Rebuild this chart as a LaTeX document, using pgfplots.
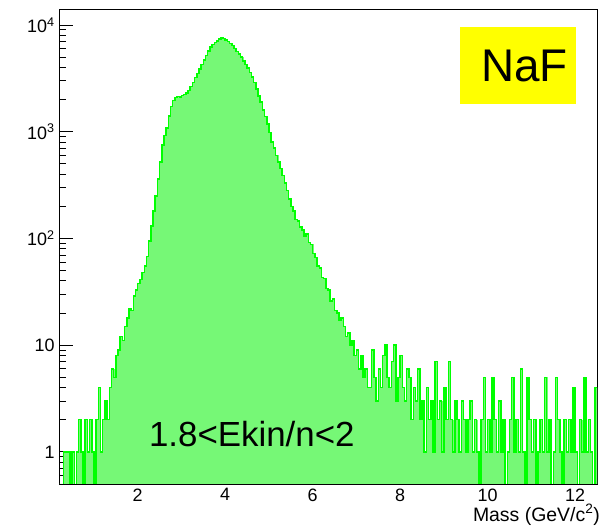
\documentclass[border=0pt]{standalone}
\usepackage{fontspec}
\setmainfont{Liberation Sans}
\usepackage{pgfplots}
\usepackage{pgfplotstable}
\pgfplotsset{compat=1.18}
\definecolor{rootgreen}{RGB}{0,255,0}
\definecolor{fillgreen}{RGB}{118,248,118}
\definecolor{rootyellow}{RGB}{255,255,0}

\pgfplotstableread[row sep=\\]{
x y\\
0.20 0.1\\ 0.25 0.1\\ 0.30 1\\ 0.35 1\\ 0.40 1\\ 0.45 0.1\\ 0.50 1\\ 0.55 0.1\\ 0.60 1\\ 0.65 2\\
0.70 1\\ 0.75 0.1\\ 0.80 2\\ 0.85 1\\ 0.90 2\\ 0.95 1\\ 1.00 0.1\\ 1.05 2\\ 1.10 4\\ 1.15 1\\
1.20 2\\ 1.25 3\\ 1.30 2\\ 1.35 4\\ 1.40 6\\ 1.45 5\\ 1.50 8\\ 1.55 9\\ 1.60 12\\ 1.65 11\\
1.70 15\\ 1.75 18\\ 1.80 22\\ 1.85 21\\ 1.90 29\\ 1.95 33\\ 2.00 38\\ 2.05 41\\ 2.10 48\\ 2.15 55\\
2.20 68\\ 2.25 95\\ 2.30 130\\ 2.35 180\\ 2.40 250\\ 2.45 360\\ 2.50 520\\ 2.55 750\\ 2.60 920\\ 2.65 1080\\
2.70 1400\\ 2.75 1720\\ 2.80 1950\\ 2.85 2080\\ 2.90 2130\\ 2.95 2120\\ 3.00 2170\\ 3.05 2220\\ 3.10 2300\\ 3.15 2420\\
3.20 2650\\ 3.25 2900\\ 3.30 3200\\ 3.35 3500\\ 3.40 3850\\ 3.45 4250\\ 3.50 4700\\ 3.55 5150\\ 3.60 5700\\ 3.65 6200\\
3.70 6550\\ 3.75 6850\\ 3.80 7100\\ 3.85 7350\\ 3.90 7550\\ 3.95 7500\\ 4.00 7250\\ 4.05 7000\\ 4.10 6700\\ 4.15 6400\\
4.20 6000\\ 4.25 5650\\ 4.30 5350\\ 4.35 5000\\ 4.40 4600\\ 4.45 4250\\ 4.50 3950\\ 4.55 3600\\ 4.60 3250\\ 4.65 2900\\
4.70 2500\\ 4.75 2150\\ 4.80 1900\\ 4.85 1600\\ 4.90 1380\\ 4.95 1180\\ 5.00 980\\ 5.05 800\\ 5.10 700\\ 5.15 600\\
5.20 520\\ 5.25 450\\ 5.30 390\\ 5.35 330\\ 5.40 280\\ 5.45 235\\ 5.50 200\\ 5.55 180\\ 5.60 150\\ 5.65 145\\
5.70 128\\ 5.75 120\\ 5.80 105\\ 5.85 110\\ 5.90 92\\ 5.95 88\\ 6.00 72\\ 6.05 66\\ 6.10 55\\ 6.15 53\\
6.20 43\\ 6.25 42\\ 6.30 34\\ 6.35 33\\ 6.40 26\\ 6.45 27\\ 6.50 21\\ 6.55 20\\ 6.60 17\\ 6.65 18\\
6.70 15\\ 6.75 12\\ 6.80 13\\ 6.85 10\\ 6.90 11\\ 6.95 8\\ 7.00 9\\ 7.05 6\\ 7.10 8\\ 7.15 5\\
7.20 6\\ 7.25 4\\ 7.30 4\\ 7.35 9\\ 7.40 5\\ 7.45 3\\ 7.50 6\\ 7.55 4\\ 7.60 8\\ 7.65 10\\
7.70 5\\ 7.75 4\\ 7.80 7\\ 7.85 10\\ 7.90 3\\ 7.95 5\\ 8.00 8\\ 8.05 4\\ 8.10 3\\ 8.15 6\\
8.20 5\\ 8.25 2\\ 8.30 4\\ 8.35 3\\ 8.40 6\\ 8.45 2\\ 8.50 3\\ 8.55 1\\ 8.60 4\\ 8.65 2\\
8.70 3\\ 8.75 1\\ 8.80 7\\ 8.85 2\\ 8.90 3\\ 8.95 1\\ 9.00 4\\ 9.05 2\\ 9.10 7\\ 9.15 2\\
9.20 1\\ 9.25 3\\ 9.30 2\\ 9.35 1\\ 9.40 3\\ 9.45 2\\ 9.50 1\\ 9.55 2\\ 9.60 3\\ 9.65 1\\
9.70 2\\ 9.75 1\\ 9.80 0.1\\ 9.85 2\\ 9.90 5\\ 9.95 1\\ 10.00 2\\ 10.05 1\\ 10.10 5\\ 10.15 2\\
10.20 1\\ 10.25 3\\ 10.30 1\\ 10.35 2\\ 10.40 0.1\\ 10.45 1\\ 10.50 2\\ 10.55 5\\ 10.60 1\\ 10.65 2\\
10.70 1\\ 10.75 6\\ 10.80 1\\ 10.85 0.1\\ 10.90 5\\ 10.95 2\\ 11.00 1\\ 11.05 2\\ 11.10 0.1\\ 11.15 1\\
11.20 2\\ 11.25 1\\ 11.30 5\\ 11.35 1\\ 11.40 2\\ 11.45 0.1\\ 11.50 1\\ 11.55 5\\ 11.60 2\\ 11.65 1\\
11.70 0.1\\ 11.75 2\\ 11.80 1\\ 11.85 2\\ 11.90 1\\ 11.95 4\\ 12.00 1\\ 12.05 0.1\\ 12.10 2\\ 12.15 1\\
12.20 5\\ 12.25 1\\ 12.30 2\\ 12.35 1\\ 12.40 0.1\\ 12.45 4\\ 12.50 4\\
}\massdata

\begin{document}
\begin{tikzpicture}
\begin{axis}[
  at={(59bp,45bp)}, anchor=south west,
  scale only axis, width=538bp, height=475bp,
  ymode=log, log origin y=infty,
  xmin=0.2, xmax=12.5, ymin=0.5, ymax=14100,
  axis line style={line width=0.9bp, black},
  tick pos=left, tick align=inside,
  major tick length=14bp, minor tick length=7.5bp,
  tick style={black, line width=0.8bp},
  xtick={2,4,6,8,10,12},
  minor xtick={0.5,1,1.5,2.5,3,3.5,4.5,5,5.5,6.5,7,7.5,8.5,9,9.5,10.5,11,11.5,12.5},
  ytick={1,10,100,1000,10000},
  yticklabels={1,10,10\textsuperscript{2},10\textsuperscript{3},10\textsuperscript{4}},
  minor ytick={0.5,0.6,0.7,0.8,0.9,2,3,4,5,6,7,8,9,20,30,40,50,60,70,80,90,200,300,400,500,600,700,800,900,2000,3000,4000,5000,6000,7000,8000,9000},
  /pgf/number format/assume math mode=true,
  ticklabel style={font=\fontsize{18}{20}\selectfont},
  yticklabel style={xshift=-1bp},
  xticklabel style={yshift=-1bp},
  clip mode=individual,
]
\addplot[ybar interval, fill=fillgreen, draw=fillgreen, line width=0.3bp] table[x=x,y=y] {\massdata};
\addplot[const plot, draw=rootgreen, line width=1.5bp] table[x=x,y=y] {\massdata};

\node[fill=rootyellow, minimum width=116bp, minimum height=77bp, inner sep=0pt,
      font=\fontsize{46}{50}\selectfont] at (rel axis cs:0.854,0.881) {\hspace{12bp}NaF};
\node[anchor=base west, inner sep=0pt, font=\fontsize{35}{40}\selectfont]
      at (rel axis cs:0.167,0.078) {1.8<Ekin/n<2};
\end{axis}
\node[anchor=base east, inner sep=0pt, font=\fontsize{19.5}{22}\selectfont]
      at (600bp,8bp) {Mass (GeV/c\textsuperscript{2})};
\pgfresetboundingbox
\path[use as bounding box] (0,0) rectangle (604bp,529bp);
\end{tikzpicture}
\end{document}
